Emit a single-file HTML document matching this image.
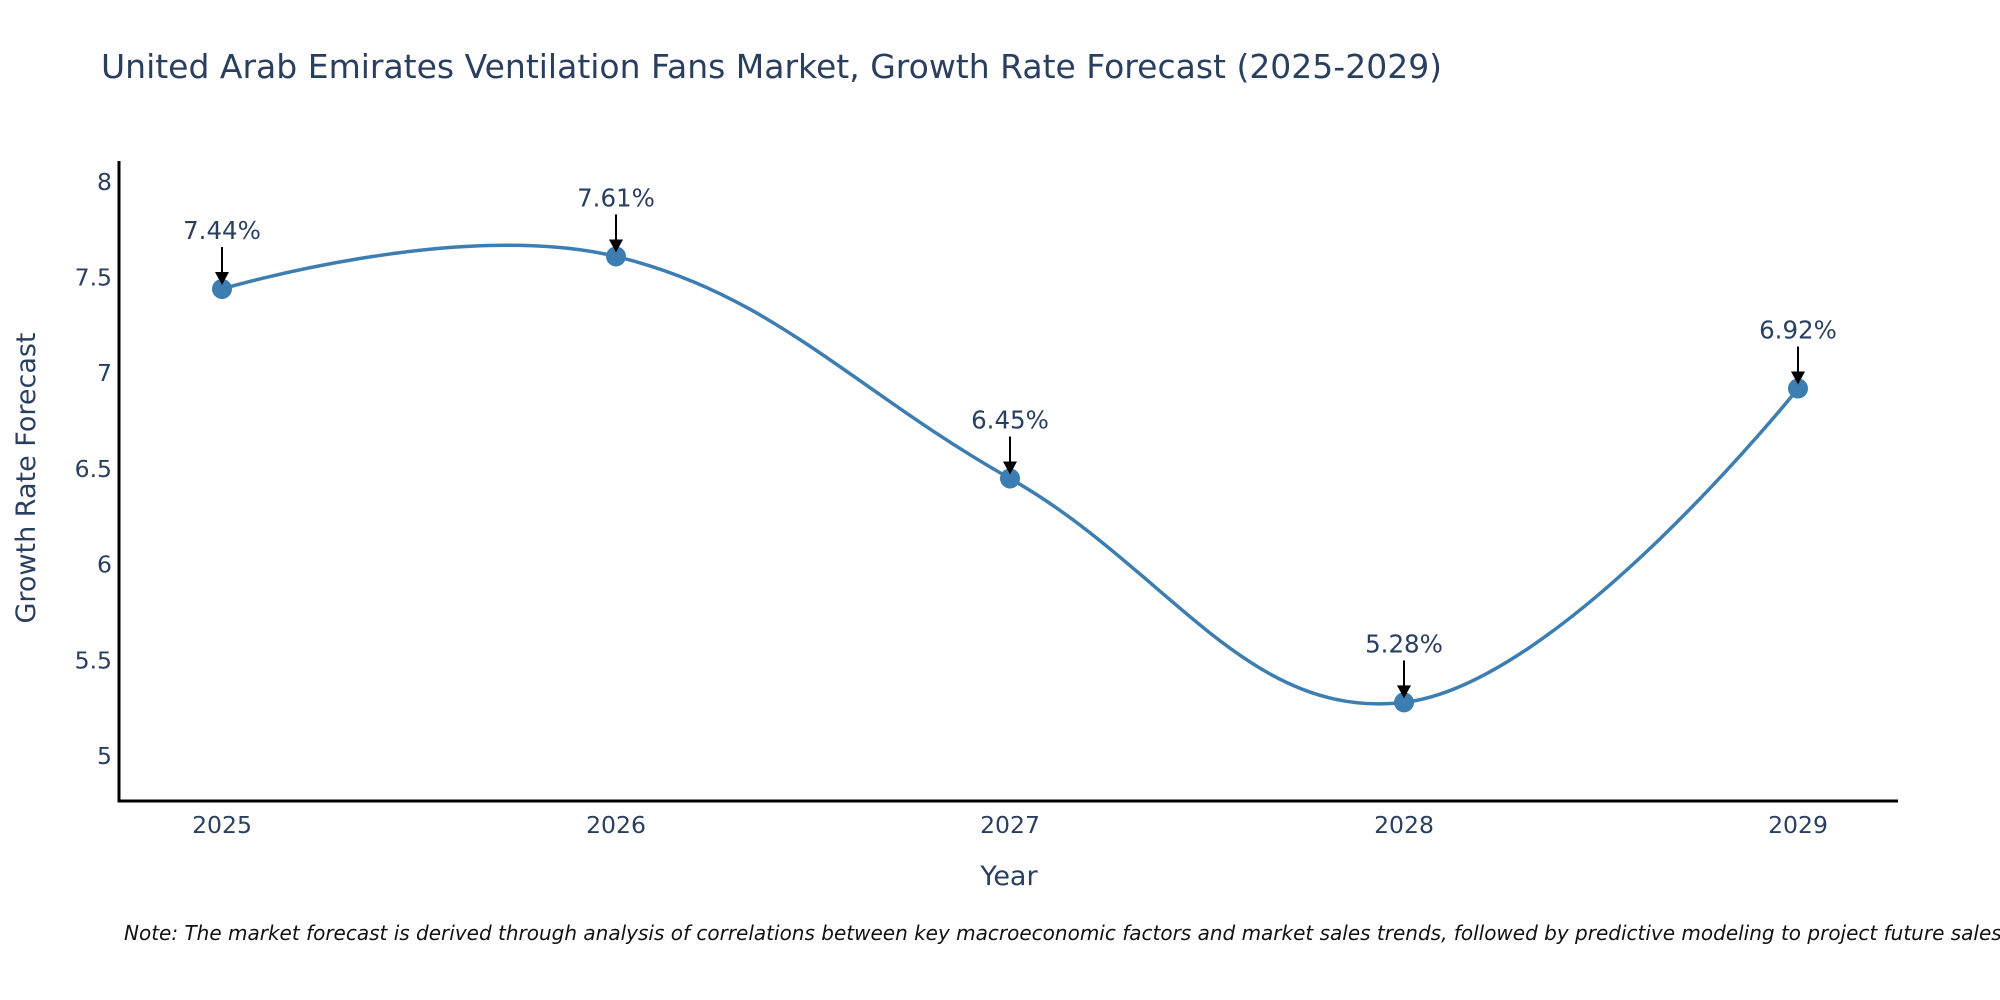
<!DOCTYPE html>
<html><head><meta charset="utf-8"><style>
html,body{margin:0;padding:0;background:#fff;width:2000px;height:1000px;overflow:hidden}
svg text{font-family:"DejaVu Sans","Liberation Sans",sans-serif;fill:#2a3f5f}
</style></head><body>
<svg id="chart" width="2000" height="1000">
<text x="101" y="78" font-size="33">United Arab Emirates Ventilation Fans Market, Growth Rate Forecast (2025-2029)</text>
<g id="yticks"></g>
<g id="xticks"></g>
<line x1="119" y1="161" x2="119" y2="802" stroke="#000" stroke-width="3"/>
<line x1="117.5" y1="801" x2="1898" y2="801" stroke="#000" stroke-width="3"/>
<text x="1009" y="885" font-size="27" text-anchor="middle">Year</text>
<text transform="translate(35,478) rotate(-90)" font-size="27" text-anchor="middle">Growth Rate Forecast</text>
<g id="series"></g>
<text x="124" y="940" font-size="20" font-style="italic"><tspan style="fill:#111">Note: The market forecast is derived through analysis of correlations between key macroeconomic factors and market sales trends, followed by predictive modeling to project future sales.</tspan></text>
</svg>
<script>
const categories = ["2025","2026","2027","2028","2029"];
const values = [7.44, 7.61, 6.45, 5.28, 6.92];
const valueLabels = ["7.44%","7.61%","6.45%","5.28%","6.92%"];
const yTicks = [5, 5.5, 6, 6.5, 7, 7.5, 8];
const yTickLabels = ["5","5.5","6","6.5","7","7.5","8"];

const NS = "http://www.w3.org/2000/svg";
function xScale(i){ return 222 + i * 394; }
function yScale(v){ return 756 - (v - 5) * 191.4; }
function mk(tag, attrs, parent){
  const e = document.createElementNS(NS, tag);
  for (const k in attrs) e.setAttribute(k, attrs[k]);
  parent.appendChild(e); return e;
}
const yt = document.getElementById('yticks');
yTicks.forEach((v, i) => {
  const t = mk('text', {x: 112, y: yScale(v) + 8, 'font-size': 23.5, 'text-anchor': 'end'}, yt);
  
  
  t.textContent = yTickLabels[i];
});
const xt = document.getElementById('xticks');
categories.forEach((c, i) => {
  const t = mk('text', {x: xScale(i), y: 833, 'font-size': 23.5, 'text-anchor': 'middle'}, xt);
  
  
  t.textContent = c;
});
const g = document.getElementById('series');
const pts = values.map((v, i) => [xScale(i), yScale(v)]);
let d = `M${pts[0][0]},${pts[0][1]}`;
const k = 0.2;
function tan(i){
  const a = pts[Math.max(i-1,0)], b = pts[Math.min(i+1,pts.length-1)];
  return [b[0]-a[0], b[1]-a[1]];
}
for (let i = 0; i < pts.length - 1; i++) {
  const p1 = pts[i], p2 = pts[i+1];
  const t1 = i === 0 ? [0,0] : tan(i), t2 = i+1 === pts.length-1 ? [0,0] : tan(i+1);
  const c1 = [p1[0] + t1[0]*k, p1[1] + t1[1]*k];
  const c2 = [p2[0] - t2[0]*k, p2[1] - t2[1]*k];
  d += ` C${c1[0]},${c1[1]} ${c2[0]},${c2[1]} ${p2[0]},${p2[1]}`;
}
const line = mk('path', {d: d, fill: 'none', stroke: '#3d7eb2', 'stroke-width': 3.5}, g);


pts.forEach((p, i) => {
  const c = mk('circle', {cx: p[0], cy: p[1], r: 10, fill: '#3d7eb2'}, g);
  
  
  const l = mk('line', {x1: p[0], y1: p[1] - 42, x2: p[0], y2: p[1] - 14, stroke: '#000', 'stroke-width': 2}, g);
  
  
  const h = mk('polygon', {points: `${p[0]-7},${p[1]-17} ${p[0]+7},${p[1]-17} ${p[0]},${p[1]-4}`, fill: '#000'}, g);
  
  
  const t = mk('text', {x: p[0], y: p[1] - 50, 'font-size': 24.5, 'text-anchor': 'middle'}, g);
  
  
  t.textContent = valueLabels[i];
});
</script>
</body></html>
